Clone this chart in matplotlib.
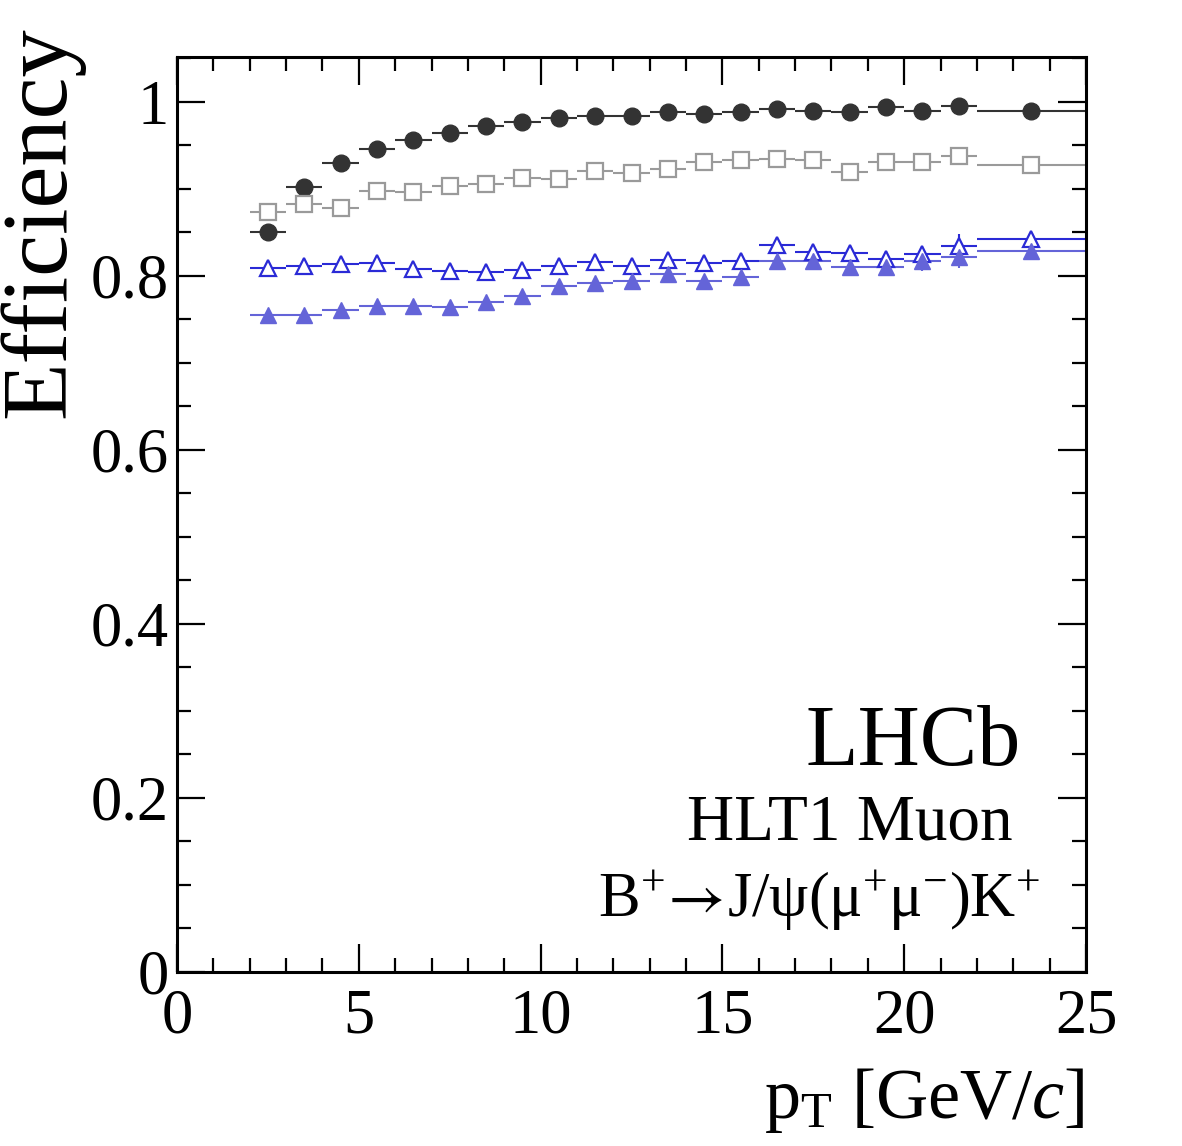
import matplotlib
matplotlib.use("Agg")
import matplotlib.pyplot as plt
from matplotlib.ticker import MultipleLocator, FuncFormatter

# bin centres and half widths [GeV/c]
pt = [2.5, 3.5, 4.5, 5.5, 6.5, 7.5, 8.5, 9.5, 10.5, 11.5, 12.5,
      13.5, 14.5, 15.5, 16.5, 17.5, 18.5, 19.5, 20.5, 21.5, 23.5]
pt_err = [0.5] * 20 + [1.5]

eff_circle = [0.851, 0.902, 0.930, 0.946, 0.956, 0.964, 0.972, 0.977, 0.982, 0.984, 0.984,
              0.989, 0.986, 0.988, 0.992, 0.990, 0.988, 0.994, 0.990, 0.995, 0.990]
err_circle = [0.002] * 21

eff_square = [0.874, 0.883, 0.878, 0.898, 0.897, 0.903, 0.906, 0.913, 0.912, 0.921, 0.918,
              0.923, 0.931, 0.933, 0.934, 0.933, 0.919, 0.931, 0.931, 0.938, 0.927]
err_square = [0.002] * 15 + [0.003, 0.003, 0.004, 0.004, 0.006, 0.004]

eff_open_tri = [0.809, 0.812, 0.814, 0.815, 0.808, 0.806, 0.805, 0.807, 0.812, 0.816, 0.812,
                0.818, 0.815, 0.817, 0.836, 0.827, 0.826, 0.820, 0.825, 0.835, 0.842]
err_open_tri = [0.002, 0.002, 0.002, 0.002, 0.002, 0.002, 0.003, 0.003, 0.003, 0.003, 0.004,
                0.004, 0.005, 0.005, 0.006, 0.007, 0.008, 0.009, 0.010, 0.013, 0.007]

eff_full_tri = [0.755, 0.755, 0.761, 0.766, 0.765, 0.764, 0.770, 0.777, 0.789, 0.792, 0.794,
                0.802, 0.794, 0.799, 0.817, 0.817, 0.810, 0.810, 0.817, 0.822, 0.829]
err_full_tri = [0.002, 0.002, 0.002, 0.002, 0.002, 0.002, 0.003, 0.003, 0.003, 0.003, 0.004,
                0.004, 0.005, 0.005, 0.006, 0.007, 0.009, 0.010, 0.011, 0.013, 0.007]

plt.rcParams["font.family"] = ["Liberation Serif", "DejaVu Sans"]
plt.rcParams["mathtext.fontset"] = "custom"
plt.rcParams["mathtext.rm"] = "Liberation Serif"
plt.rcParams["mathtext.it"] = "Liberation Serif:italic"
plt.rcParams["mathtext.sf"] = "STIXGeneral"
plt.rcParams["mathtext.fallback"] = "stix"

fig = plt.figure(figsize=(11.82, 11.46), dpi=100)
ax = fig.add_axes([177 / 1182, 1 - 972 / 1146, 909 / 1182, 915 / 1146])

ax.errorbar(pt, eff_circle, xerr=pt_err, yerr=err_circle, fmt="o", color="#333333",
            ms=12, elinewidth=1.5, capsize=0)
ax.errorbar(pt, eff_square, xerr=pt_err, yerr=err_square, fmt="s", color="#9a9a9a",
            mfc="white", mec="#9a9a9a", mew=1.6, ms=11, elinewidth=1.5, capsize=0)
ax.errorbar(pt, eff_open_tri, xerr=pt_err, yerr=err_open_tri, fmt="^", color="#2a2ad6",
            mfc="white", mec="#2a2ad6", mew=1.6, ms=11.5, elinewidth=1.5, capsize=0)
ax.errorbar(pt, eff_full_tri, xerr=pt_err, yerr=err_full_tri, fmt="^", color="#6464d8",
            ms=11.5, elinewidth=1.5, capsize=0)

ax.set_xlim(0, 25)
ax.set_ylim(0, 1.0517)
ax.xaxis.set_major_locator(MultipleLocator(5))
ax.xaxis.set_minor_locator(MultipleLocator(1))
ax.yaxis.set_major_locator(MultipleLocator(0.2))
ax.yaxis.set_minor_locator(MultipleLocator(0.05))
ax.yaxis.set_major_formatter(FuncFormatter(lambda v, p: f"{v:g}"))
ax.xaxis.set_major_formatter(FuncFormatter(lambda v, p: f"{v:g}"))

ax.tick_params(which="both", direction="in", top=True, right=True, width=1.6,
               labelsize=45)
ax.tick_params(which="major", length=20)
ax.tick_params(which="minor", length=10)
ax.tick_params(axis="x", pad=12)
ax.tick_params(axis="y", pad=6)
for s in ax.spines.values():
    s.set_linewidth(2.2)

fig.text(42 / 1182, 1 - 26 / 1146, "Efficiency", rotation=90, ha="center", va="top",
         fontsize=68)
fig.text(1085 / 1182, 1 - 1118 / 1146, r"p$_{\mathrm{T}}$ [GeV/$c$]", ha="right",
         va="baseline", fontsize=52)

fig.text(1021 / 1182, 1 - 765 / 1146, "LHCb", ha="right", va="baseline", fontsize=62)
fig.text(1013 / 1182, 1 - 840 / 1146, "HLT1 Muon", ha="right", va="baseline", fontsize=47)
fig.text(1040 / 1182, 1 - 917 / 1146,
         r"B$^{+}\!\mathsf{\rightarrow}\!$J/ψ(μ$^{+}$μ$^{-}$)K$^{+}$",
         ha="right", va="baseline", fontsize=45)

fig.savefig("out.png", dpi=100)
